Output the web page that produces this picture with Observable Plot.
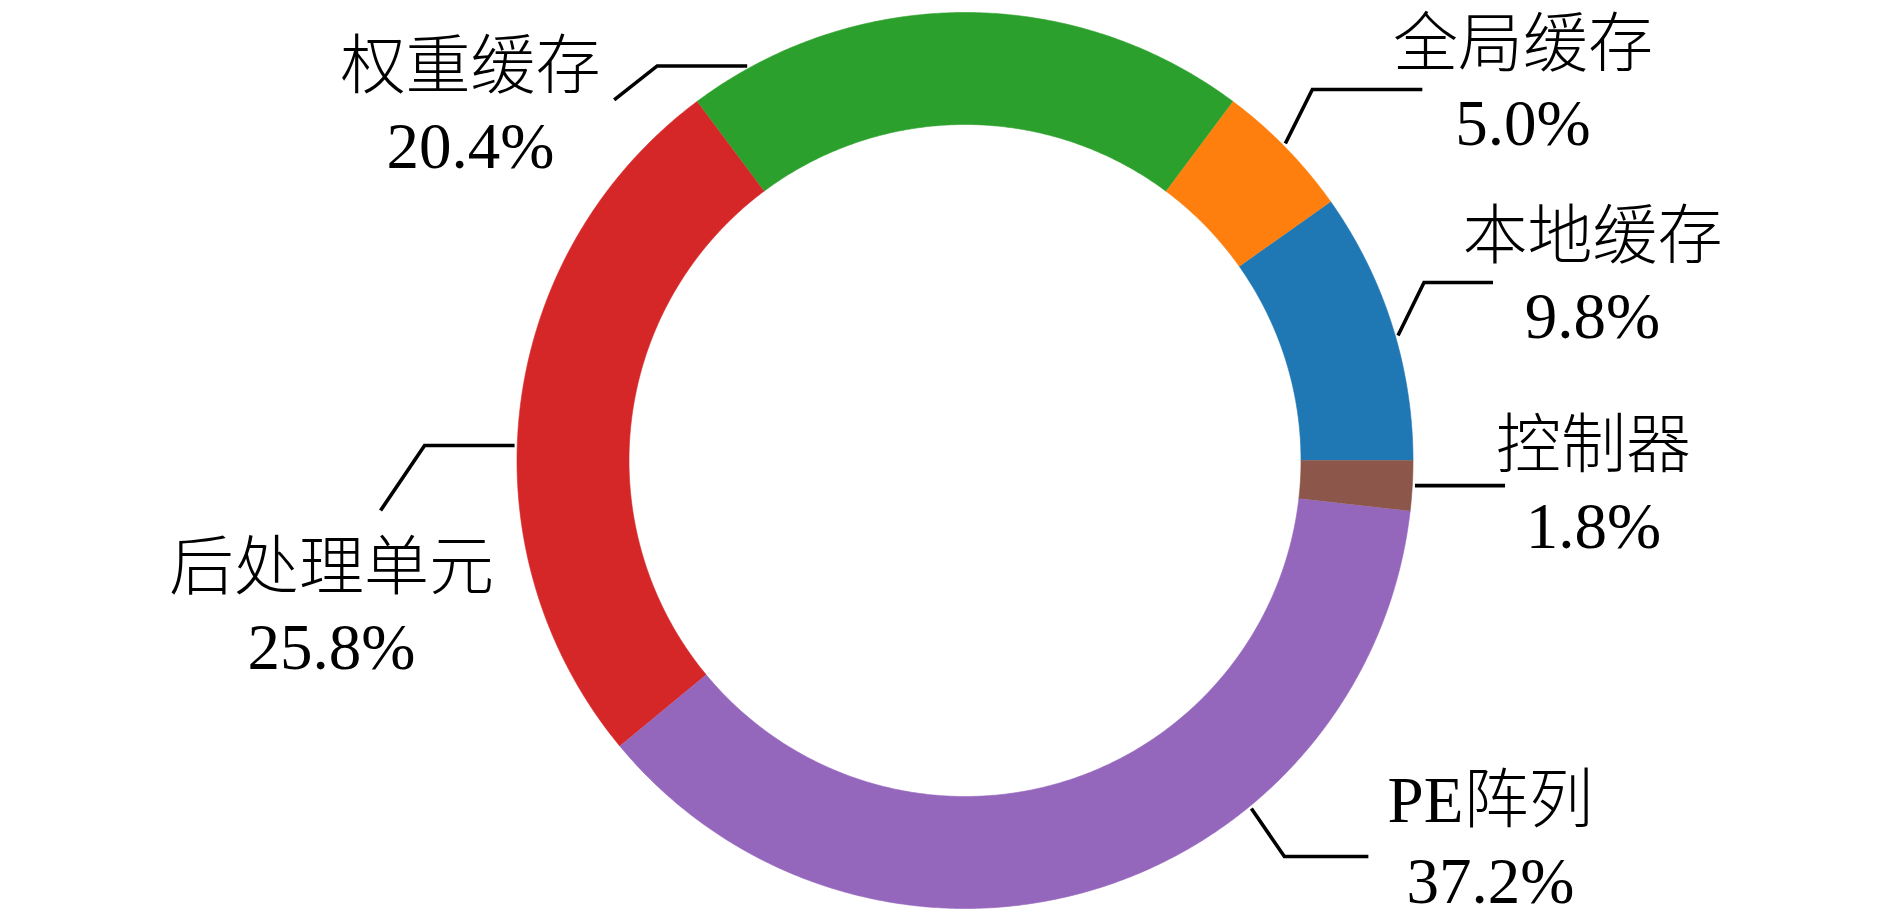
<!DOCTYPE html>
<html><head><meta charset="utf-8">
<script src="https://cdn.jsdelivr.net/npm/d3@7"></script>
<script src="https://cdn.jsdelivr.net/npm/@observablehq/plot@0.6"></script>
<style>html,body{margin:0;padding:0;background:#fff;}</style>
</head><body><div id="chart"></div>
<script>
// ---- data ----
const categories = ["本地缓存", "全局缓存", "权重缓存", "后处理单元", "PE阵列", "控制器"];
const shares = [9.8, 5.0, 20.4, 25.8, 37.2, 1.8];
const percentLabels = ["9.8%", "5.0%", "20.4%", "25.8%", "37.2%", "1.8%"];
const colors = ["#1f77b4", "#ff7f0e", "#2ca02c", "#d62728", "#9467bd", "#8c564b"];

// ---- layout (pixels) ----
const W = 1890, H = 921, CX = 964.5, CY = 460, R = 448, HOLE = 0.75;
// annotation layout: anchor angle on ring (deg), elbow/end offsets from anchor (px, screen y down),
// text centre x (px from pie centre), baselines of the two lines (px from pie centre)
const labelLayout = [
  {angle: 16.1,   elbow: [26, -53], end: [95, -53],  tx: 627.5,  b1: -203, b2: -123},
  {angle: 44.7,   elbow: [27, -54], end: [137, -54], tx: 558,    b1: -395, b2: -316},
  {angle: 118.9,  elbow: [-90, 0],  end: [-133, 34], tx: -494.5, b1: -373, b2: -293},
  {angle: 178.1,  elbow: [-90, 0],  end: [-134, 65], tx: -633.5, b1: 128,  b2: 208},
  {angle: -50.55, elbow: [33, 48],  end: [117, 48],  tx: 525.5,  b1: 361,  b2: 442},
  {angle: -3.19,  elbow: [0, 0],    end: [90, 0],    tx: 628.5,  b1: 6,    b2: 87}
];

// ---- geometry derived from data ----
const total = d3.sum(shares);
let acc = 0;
const slices = shares.map((v, i) => {
  const a0 = acc / total * 360; acc += v;
  const a1 = acc / total * 360;
  return {name: categories[i], a0, a1, color: colors[i]};
});
const rad = a => a * Math.PI / 180;
function ringPolygon(s) {
  const pts = [];
  const n = Math.max(4, Math.ceil((s.a1 - s.a0) / 0.4));
  for (let k = 0; k <= n; k++) {
    const a = rad(s.a0 + (s.a1 - s.a0) * k / n);
    pts.push({x: Math.cos(a), y: Math.sin(a)});
  }
  for (let k = n; k >= 0; k--) {
    const a = rad(s.a0 + (s.a1 - s.a0) * k / n);
    pts.push({x: HOLE * Math.cos(a), y: HOLE * Math.sin(a)});
  }
  return pts;
}
const connectors = [];
labelLayout.forEach((L, i) => {
  const a = rad(L.angle), r = 1.006;
  const ax = r * Math.cos(a), ay = r * Math.sin(a);
  connectors.push({name: categories[i], x: ax, y: ay});
  connectors.push({name: categories[i], x: ax + L.elbow[0] / R, y: ay - L.elbow[1] / R});
  connectors.push({name: categories[i], x: ax + L.end[0] / R, y: ay - L.end[1] / R});
});
const texts = [];
labelLayout.forEach((L, i) => {
  texts.push({x: L.tx / R, y: -L.b1 / R, text: categories[i]});
  texts.push({x: L.tx / R, y: -L.b2 / R, text: percentLabels[i]});
});

const chart = Plot.plot({
  width: W, height: H,
  margin: 0,
  x: {domain: [-CX / R, (W - CX) / R], axis: null},
  y: {domain: [-(H - CY) / R, CY / R], axis: null},
  style: {background: "#fff"},
  marks: [
    slices.map(s => Plot.line(ringPolygon(s), {x: "x", y: "y", fill: s.color, stroke: s.color, strokeWidth: 0.6, curve: "linear"})),
    Plot.line(connectors, {x: "x", y: "y", z: "name", stroke: "black", strokeWidth: 3.6, strokeLinecap: "butt", strokeLinejoin: "miter", strokeMiterlimit: 10}),
    Plot.text(texts, {x: "x", y: "y", text: "text", fontSize: 65, textAnchor: "middle", lineAnchor: "bottom",
      fontWeight: 300, fontFamily: "'Liberation Serif', 'Noto Sans CJK SC', serif", fill: "black"})
  ]
});
document.getElementById("chart").appendChild(chart);
</script>
</body></html>
